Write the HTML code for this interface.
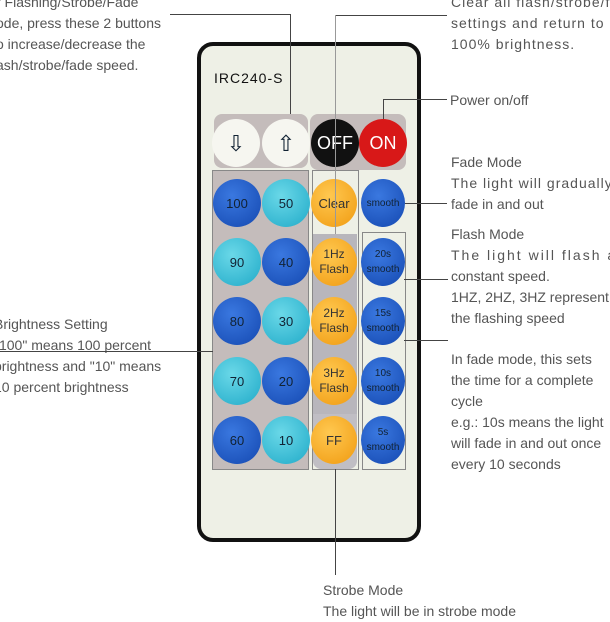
<!DOCTYPE html><html><head><style>
body{margin:0;width:610px;height:610px;background:#fff;position:relative;overflow:hidden;font-family:"Liberation Sans",sans-serif}
.t{position:absolute;color:#555;font-size:14px;line-height:21px;white-space:nowrap}
.r{position:absolute;left:197px;top:42px;width:216px;height:492px;border:4px solid #111;border-radius:16px;background:#eef0e6}
.p{position:absolute;background:#c4bcbb}
.b{position:absolute;width:48px;height:48px;border-radius:50%;display:flex;align-items:center;justify-content:center;text-align:center;font-size:13px;line-height:15px;color:#123}
.db{background:radial-gradient(circle at 40% 35%,#3a78e0,#1448b0)}
.lb{background:radial-gradient(circle at 40% 35%,#6ad8e8,#20aac8)}
.or{background:radial-gradient(circle at 40% 35%,#ffc850,#f09a10);color:#333}
.l{position:absolute;background:#444}
.bx{position:absolute;border:1.5px solid #888}
</style></head><body>
<div class="t" style="left:-4px;top:-8px">r Flashing/Strobe/Fade<br>ode, press these 2 buttons<br>o increase/decrease the<br>ash/strobe/fade speed.</div>
<div class="t" style="left:451px;top:-8px;letter-spacing:1px">Clear all flash/strobe/fade<br>settings and return to<br>100% brightness.</div>
<div class="t" style="left:450px;top:90px">Power on/off</div>
<div class="t" style="left:451px;top:152px">Fade Mode<br><span style="letter-spacing:1px">The light will gradually</span><br>fade in and out</div>
<div class="t" style="left:451px;top:224px">Flash Mode<br><span style="letter-spacing:2px">The light will flash at</span><br>constant speed.<br>1HZ, 2HZ, 3HZ represent<br>the flashing speed</div>
<div class="t" style="left:451px;top:349px">In fade mode, this sets<br>the time for a complete<br>cycle<br>e.g.: 10s means the light<br>will fade in and out once<br>every 10 seconds</div>
<div class="t" style="left:-6px;top:314px">Brightness Setting<br>"100" means 100 percent<br>brightness and "10" means<br>10 percent brightness</div>
<div class="t" style="left:323px;top:580px">Strobe Mode<br>The light will be in strobe mode</div>
<div class="r"></div>
<div style="position:absolute;left:214px;top:70px;font-size:14px;letter-spacing:1px;color:#111">IRC240-S</div>
<div class="p" style="left:214px;top:114px;width:94px;height:54px;border-radius:8px"></div>
<div class="p" style="left:310px;top:114px;width:96px;height:56px;border-radius:8px"></div>
<div class="p" style="left:213px;top:170px;width:95px;height:299px"></div>
<div class="p" style="left:313px;top:234px;width:44px;height:180px;background:#b8b6bc"></div>
<div class="p" style="left:313px;top:414px;width:44px;height:55px;background:#c0bec4;border-radius:0 0 8px 8px"></div>
<div class="bx" style="left:212px;top:170px;width:95px;height:298px"></div>
<div class="bx" style="left:312px;top:170px;width:45px;height:298px"></div>
<div class="bx" style="left:362px;top:232px;width:42px;height:236px"></div>
<div class="b" style="left:212px;top:119px;background:#f6f6f0;font-size:22px">⇩</div>
<div class="b" style="left:262px;top:119px;background:#f6f6f0;font-size:22px">⇧</div>
<div class="b" style="left:311px;top:119px;background:#111;color:#fff;font-size:18px">OFF</div>
<div class="b" style="left:359px;top:119px;background:#d81818;color:#fff;font-size:18px">ON</div>
<div class="b db" style="left:213px;top:179px">100</div><div class="b lb" style="left:262px;top:179px">50</div>
<div class="b lb" style="left:213px;top:238px">90</div><div class="b db" style="left:262px;top:238px">40</div>
<div class="b db" style="left:213px;top:297px">80</div><div class="b lb" style="left:262px;top:297px">30</div>
<div class="b lb" style="left:213px;top:357px">70</div><div class="b db" style="left:262px;top:357px">20</div>
<div class="b db" style="left:213px;top:416px">60</div><div class="b lb" style="left:262px;top:416px">10</div>
<div class="b or" style="left:311px;top:179px;width:46px">Clear</div>
<div class="b or" style="left:311px;top:238px;width:46px;font-size:12px">1Hz<br>Flash</div>
<div class="b or" style="left:311px;top:297px;width:46px;font-size:12px">2Hz<br>Flash</div>
<div class="b or" style="left:311px;top:357px;width:46px;font-size:12px">3Hz<br>Flash</div>
<div class="b or" style="left:311px;top:416px;width:46px">FF</div>
<div class="b db" style="left:361px;top:179px;width:44px;font-size:10px">smooth</div>
<div class="b db" style="left:361px;top:238px;width:44px;font-size:10px">20s<br>smooth</div>
<div class="b db" style="left:361px;top:297px;width:44px;font-size:10px">15s<br>smooth</div>
<div class="b db" style="left:361px;top:357px;width:44px;font-size:10px">10s<br>smooth</div>
<div class="b db" style="left:361px;top:416px;width:44px;font-size:10px">5s<br>smooth</div>
<div class="l" style="left:170px;top:14px;width:121px;height:1px"></div>
<div class="l" style="left:290px;top:14px;width:1px;height:100px"></div>
<div class="l" style="left:335px;top:15px;width:112px;height:1px"></div>
<div class="l" style="left:335px;top:15px;width:1px;height:219px;background:#999"></div>
<div class="l" style="left:383px;top:99px;width:64px;height:1px"></div>
<div class="l" style="left:383px;top:99px;width:1px;height:20px"></div>
<div class="l" style="left:405px;top:203px;width:42px;height:1px"></div>
<div class="l" style="left:404px;top:279px;width:44px;height:1px"></div>
<div class="l" style="left:404px;top:340px;width:44px;height:1px"></div>
<div class="l" style="left:0;top:351px;width:213px;height:1px"></div>
<div class="l" style="left:335px;top:469px;width:1px;height:106px"></div>
</body></html>
